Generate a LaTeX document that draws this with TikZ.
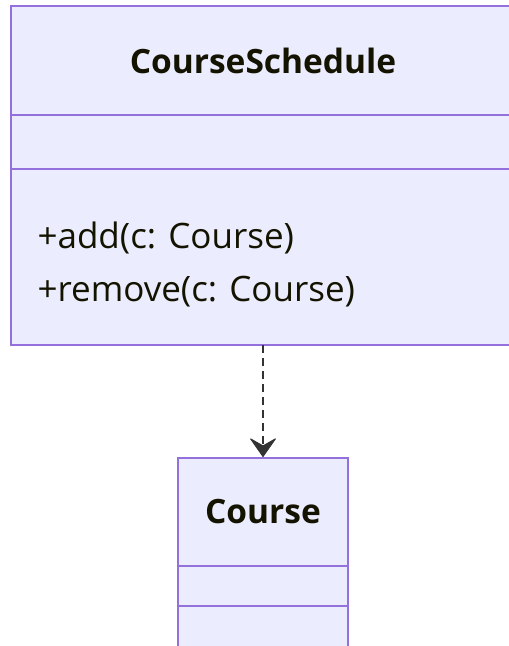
\documentclass[tikz,border=0pt]{standalone}
\usepackage{fontspec}
\setmainfont{Open Sans}
\usetikzlibrary{arrows.meta}
\definecolor{boxfill}{HTML}{ECECFF}
\definecolor{boxline}{HTML}{9370DB}
\definecolor{txt}{HTML}{131300}
\definecolor{arr}{HTML}{333333}
\tikzset{
  classbox/.style={draw=boxline, fill=boxfill, line width=2.2pt},
  divider/.style={draw=boxline, line width=2.2pt},
  title/.style={font=\bfseries\fontsize{33.5}{38}\selectfont, text=txt},
  member/.style={font=\fontsize{35}{40}\selectfont, text=txt, anchor=west},
  dep/.style={draw=arr, line width=2.5pt, dash pattern=on 8pt off 5pt,
    -{Stealth[length=20pt,width=28pt,inset=8pt,fill=arr,line width=1pt,round]}}
}
\begin{document}
\begin{tikzpicture}[x=1pt,y=-1pt]
\useasboundingbox (0,0) rectangle (509,646);
% CourseSchedule box
\path[classbox] (11,6) rectangle (530,345);
\draw[divider] (11,115) -- (530,115);
\draw[divider] (11,169) -- (530,169);
\node[title] (cs) at (263,61) {CourseSchedule};
\node[member] (m1) at (34,238) {+add(c: Course)};
\node[member] (m2) at (34,292) {+remove(c: Course)};
\coordinate (csb) at (263,345);
% Course box
\path[classbox] (178,458) rectangle (348,680);
\draw[divider] (178,566) -- (348,566);
\draw[divider] (178,606) -- (348,606);
\node[title] (c) at (263,512) {Course};
\coordinate (ct) at (263,457);
\draw[dep] (csb) -- (ct);
\end{tikzpicture}
\end{document}
